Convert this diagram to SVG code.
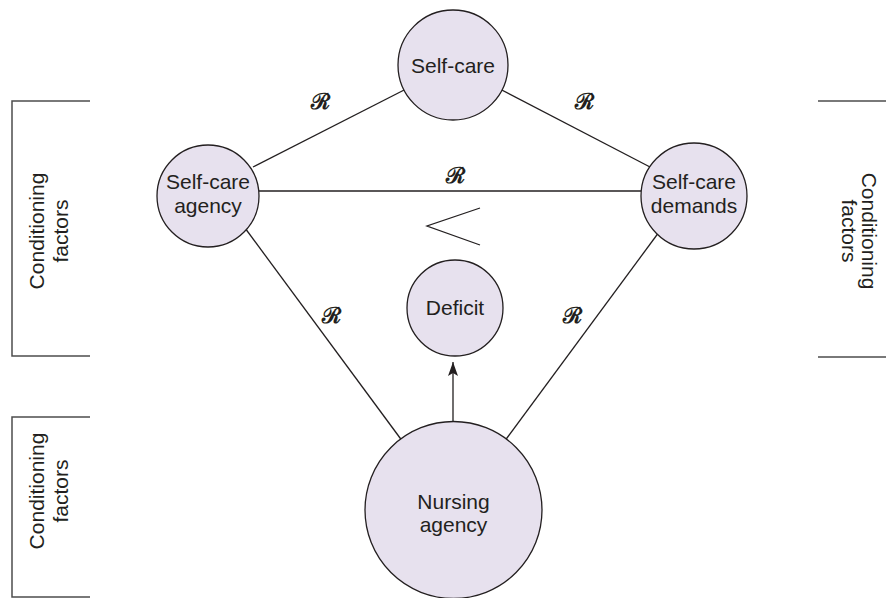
<svg xmlns="http://www.w3.org/2000/svg" width="886" height="598" viewBox="0 0 886 598">
  <style>
    .node { fill: #e7e1ee; stroke: #231f20; stroke-width: 1.3; }
    .edge { stroke: #231f20; stroke-width: 1.3; fill: none; }
    .bracket { stroke: #4d4d4d; stroke-width: 1.5; fill: none; }
    .lbl { font-family: "Liberation Sans", Arial, sans-serif; font-size: 21px; fill: #231f20; text-anchor: middle; }
    .rel { font-family: "DejaVu Serif", serif; font-weight: bold; font-size: 22px; fill: #231f20; text-anchor: middle; }
  </style>
  <defs>
    <marker id="arrow" viewBox="0 0 14 10" refX="14" refY="5" markerWidth="14" markerHeight="10" markerUnits="userSpaceOnUse" orient="auto">
      <path d="M14,5 L0,0 L3,5 L0,10 Z" fill="#231f20"/>
    </marker>
  </defs>

  <!-- conditioning factor brackets -->
  <g id="bracket-left-top">
    <polyline class="bracket" points="90,101 12,101 12,356 90,356"/>
    <text class="lbl" transform="translate(44,231) rotate(-90)">Conditioning</text>
    <text class="lbl" transform="translate(68,231) rotate(-90)">factors</text>
  </g>
  <g id="bracket-right">
    <line class="bracket" x1="818" y1="101" x2="886" y2="101"/>
    <line class="bracket" x1="818" y1="357" x2="886" y2="357"/>
    <text class="lbl" transform="translate(862,231) rotate(90)">Conditioning</text>
    <text class="lbl" transform="translate(842,231) rotate(90)">factors</text>
  </g>
  <g id="bracket-left-bottom">
    <polyline class="bracket" points="90,417 12,417 12,597 90,597"/>
    <text class="lbl" transform="translate(44,491) rotate(-90)">Conditioning</text>
    <text class="lbl" transform="translate(68,491) rotate(-90)">factors</text>
  </g>

  <!-- connectors -->
  <g id="connectors">
    <line class="edge" x1="253" y1="167" x2="410" y2="87"/>
    <line class="edge" x1="496" y1="87" x2="650" y2="167"/>
    <line class="edge" x1="255" y1="191" x2="645" y2="191"/>
    <line class="edge" x1="245" y1="228" x2="403" y2="442"/>
    <line class="edge" x1="662" y1="228" x2="504" y2="442"/>
    <line class="edge" x1="453" y1="421" x2="453" y2="362" marker-end="url(#arrow)"/>
    <polyline class="edge" points="480,208 427,226 480,245"/>
    <text class="rel" x="320" y="109">ℛ</text>
    <text class="rel" x="584" y="109">ℛ</text>
    <text class="rel" x="455" y="183">ℛ</text>
    <text class="rel" x="331" y="323">ℛ</text>
    <text class="rel" x="572" y="323">ℛ</text>
  </g>

  <!-- nodes -->
  <g id="self-care">
    <circle class="node" cx="453" cy="65" r="55"/>
    <text class="lbl" x="453" y="73">Self-care</text>
  </g>
  <g id="self-care-agency">
    <circle class="node" cx="208" cy="196" r="51"/>
    <text class="lbl" x="208" y="189">Self-care</text>
    <text class="lbl" x="208" y="213">agency</text>
  </g>
  <g id="self-care-demands">
    <circle class="node" cx="694" cy="196" r="53"/>
    <text class="lbl" x="694" y="189">Self-care</text>
    <text class="lbl" x="694" y="213">demands</text>
  </g>
  <g id="deficit">
    <circle class="node" cx="455" cy="308" r="48"/>
    <text class="lbl" x="455" y="315">Deficit</text>
  </g>
  <g id="nursing-agency">
    <circle class="node" cx="453.5" cy="510" r="88.5"/>
    <text class="lbl" x="453.5" y="509">Nursing</text>
    <text class="lbl" x="453.5" y="532">agency</text>
  </g>
</svg>
